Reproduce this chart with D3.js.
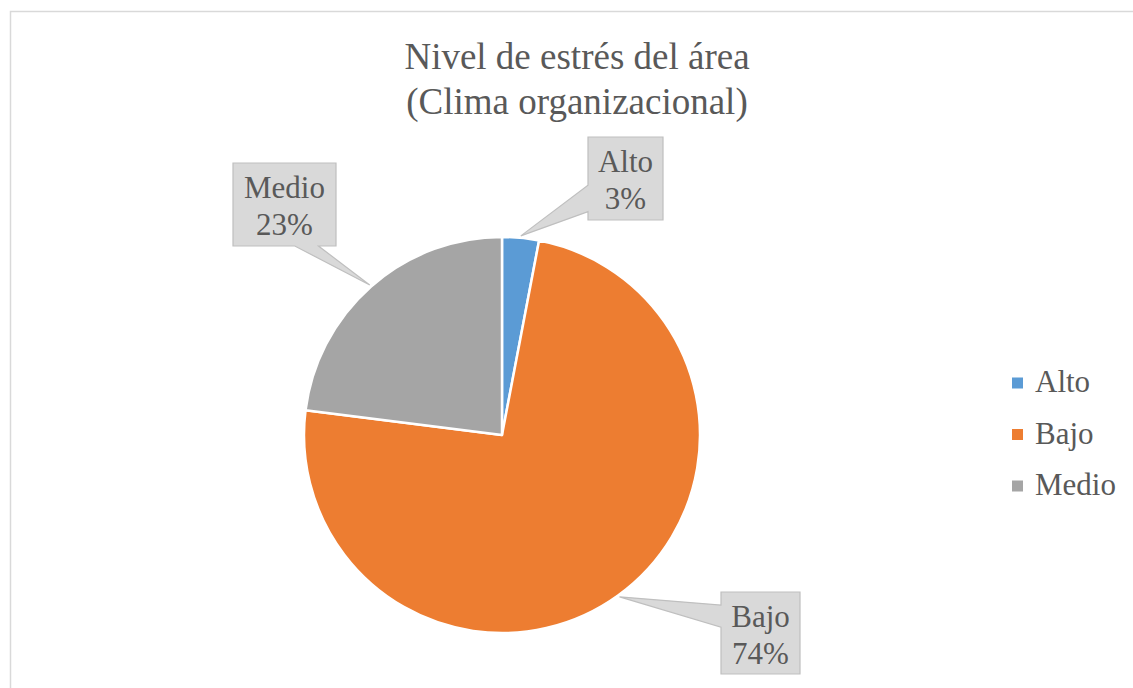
<!DOCTYPE html>
<html>
<head>
<meta charset="utf-8">
<script src="https://cdn.jsdelivr.net/npm/d3@7"></script>
<style>
  body { margin: 0; background: #fff; }
  svg text { font-family: "Liberation Serif", "Times New Roman", Times, "Noto Serif", "DejaVu Serif", serif; fill: #595959; }
</style>
</head>
<body>
<div id="chart"></div>
<script>
    // data
    var categories = ["Alto", "Bajo", "Medio"];
    var values = [3, 74, 23];
    var colors = ["#5b9bd5", "#ed7d31", "#a5a5a5"];
    var titleLines = ["Nivel de estrés del área", "(Clima organizacional)"];

    var width = 1133,
        height = 688,
        cx = 502,
        cy = 435,
        radius = 198,
        serif = "'Liberation Serif', 'Times New Roman', Times, serif";

    // callout box placement, relative to pie centre (same order as categories)
    var callouts = [
        { dx: 86, dy: -298, w: 75, h: 83, side: "left", b0: 0.58, b1: 0.9 },
        { dx: 219, dy: 157, w: 79, h: 82, side: "left", b0: 0.16, b1: 0.43 },
        { dx: -269, dy: -272, w: 103, h: 83, side: "bottom", b0: 0.6, b1: 0.83 }
    ];

    var svg = d3.select("#chart").append("svg")
        .attr("width", width)
        .attr("height", height);

    svg.append("rect")
        .attr("x", 10.5)
        .attr("y", 11.5)
        .attr("width", 1200)
        .attr("height", 800)
        .attr("fill", "none")
        .attr("stroke", "#d9d9d9")
        .attr("stroke-width", 1.5);

    svg.append("text")
        .attr("x", 577)
        .attr("y", 69)
        .attr("text-anchor", "middle")
        .attr("font-family", serif)
        .style("font-size", "37px")
        .selectAll("tspan")
        .data(titleLines)
        .enter().append("tspan")
        .attr("x", 577)
        .attr("dy", function(d, i) { return i == 0 ? 0 : 45; })
        .text(function(d) { return d; });

    var pie = d3.pie().sort(null).value(function(d) { return d; });
    var arcs = pie(values);
    var arc = d3.arc().innerRadius(0).outerRadius(radius);
    var tipArc = d3.arc().innerRadius(radius + 2).outerRadius(radius + 2);

    var g = svg.append("g")
        .attr("transform", "translate(" + cx + "," + cy + ")");

    g.selectAll("path.slice")
        .data(arcs)
        .enter().append("path")
        .attr("class", "slice")
        .attr("d", arc)
        .attr("fill", function(d, i) { return colors[i]; })
        .attr("stroke", "#fff")
        .attr("stroke-width", 2.5)
        .attr("stroke-linejoin", "round");

    function calloutPath(c, tip) {
        var x0 = c.dx, y0 = c.dy, x1 = c.dx + c.w, y1 = c.dy + c.h;
        if (c.side == "left") {
            var a = y0 + c.h * c.b0, b = y0 + c.h * c.b1;
            return "M" + x0 + "," + y0 + "H" + x1 + "V" + y1 + "H" + x0 +
                "V" + b + "L" + tip[0] + "," + tip[1] + "L" + x0 + "," + a + "Z";
        }
        var l = x0 + c.w * c.b0, r = x0 + c.w * c.b1;
        return "M" + x0 + "," + y0 + "H" + x1 + "V" + y1 + "H" + r +
            "L" + tip[0] + "," + tip[1] + "L" + l + "," + y1 + "H" + x0 + "Z";
    }

    var labels = g.selectAll("g.callout")
        .data(arcs)
        .enter().append("g")
        .attr("class", "callout");

    labels.append("path")
        .attr("d", function(d, i) { return calloutPath(callouts[i], tipArc.centroid(d)); })
        .attr("fill", "#d9d9d9")
        .attr("stroke", "#bfbfbf")
        .attr("stroke-width", 1.2);

    labels.append("text")
        .attr("text-anchor", "middle")
        .attr("font-family", serif)
        .style("font-size", "31px")
        .each(function(d, i) {
            var c = callouts[i];
            var t = d3.select(this);
            var pct = Math.round(100 * d.value / d3.sum(values)) + "%";
            [categories[i], pct].forEach(function(s, j) {
                t.append("tspan")
                    .attr("x", c.dx + c.w / 2)
                    .attr("y", c.dy + 35 + j * 36.5)
                    .text(s);
            });
        });

    // legend
    var legend = svg.append("g")
        .attr("transform", "translate(1012,383)");

    var item = legend.selectAll("g")
        .data(categories)
        .enter().append("g")
        .attr("transform", function(d, i) { return "translate(0," + i * 51.5 + ")"; });

    item.append("rect")
        .attr("x", 0)
        .attr("y", -5.5)
        .attr("width", 11)
        .attr("height", 11)
        .attr("fill", function(d, i) { return colors[i]; });

    item.append("text")
        .attr("x", 23)
        .attr("y", 9)
        .attr("font-family", serif)
        .style("font-size", "31px")
        .text(function(d) { return d; });
</script>
</body>
</html>
